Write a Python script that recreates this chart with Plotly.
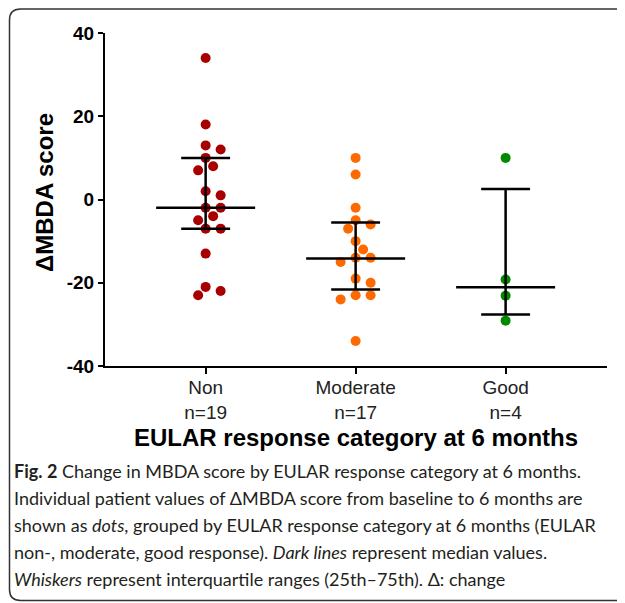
import plotly.graph_objects as go

# ---------------- data ----------------
categories = ["Non", "Moderate", "Good"]
tick_labels = ["Non<br>n=19", "Moderate<br>n=17", "Good<br>n=4"]
non_values = [34, 18, 13, 12, 10, 8, 7, 2, 1, -2, -2, -4, -5, -7, -7, -13, -21, -22, -23]
moderate_values = [10, 6, -2, -5, -6, -7, -10, -12, -14, -14, -15, -19, -20, -23, -23, -24, -34]
good_values = [10, -19.2, -23.1, -29.1]
medians = [-2, -14.2, -21.1]
q1_values = [-7, -21.6, -27.6]
q3_values = [10, -5.5, 2.5]
y_ticks = [-40, -20, 0, 20, 40]
y_tick_text = ["-40", "-20", "0", "20", "40"]

colors = ["#A80000", "#FF6A00", "#008A00"]

# ---------------- layout geometry (screen pixels; page body has an 8px margin) ----------------
OFF = 8
SCR_W, SCR_H = 625, 603
W, H = SCR_W - OFF, SCR_H - OFF
PL, PR, PT, PB = 105, 607, 33, 366          # plot area in screen pixels
PW, PH = PR - PL, PB - PT
XMIN, XMAX = -0.671, 2.676
YMIN, YMAX = -40, 40
px_per_x = PW / (XMAX - XMIN)
px_per_y = PH / (YMAX - YMIN)


def px(xs):
    return (xs - PL) / PW


def py(ys):
    return (PB - ys) / PH


def beeswarm(values, step_px=7.5, min_dist=11.0):
    placed = []
    order = sorted(range(len(values)), key=lambda i: -values[i])
    offs = [0.0] * len(values)
    cands = [0]
    for j in range(1, 12):
        cands += [j, -j]
    for i in order:
        yv = values[i] * px_per_y
        for c in cands:
            xo = c * step_px
            if all(((xx - xo) ** 2 + (yy - yv) ** 2) ** 0.5 >= min_dist for (xx, yy) in placed):
                offs[i] = xo / px_per_x
                placed.append((xo, yv))
                break
    return offs


fig = go.Figure()
groups = [non_values, moderate_values, good_values]
for gi, vals in enumerate(groups):
    offs = beeswarm(vals)
    fig.add_trace(go.Scatter(
        x=[gi + o for o in offs], y=vals, mode="markers",
        marker=dict(size=10, color=colors[gi], line=dict(width=0)),
        showlegend=False, hoverinfo="y"))

# median lines and IQR whiskers
med_half = 0.33
cap_half = 0.163
lx, ly = [], []
for gi in range(len(categories)):
    lx += [gi - med_half, gi + med_half, None]
    ly += [medians[gi], medians[gi], None]
    lx += [gi - cap_half, gi + cap_half, None, gi - cap_half, gi + cap_half, None, gi, gi, None]
    ly += [q1_values[gi], q1_values[gi], None, q3_values[gi], q3_values[gi], None,
           q1_values[gi], q3_values[gi], None]
fig.add_trace(go.Scatter(x=lx, y=ly, mode="lines", line=dict(color="black", width=2.5),
                         showlegend=False, hoverinfo="skip"))

axis_font = "Liberation Sans, Arial, sans-serif"
fig.update_layout(
    width=W, height=H,
    margin=dict(l=PL - OFF, r=W - (PR - OFF), t=PT - OFF, b=H - (PB - OFF), pad=0),
    paper_bgcolor="white", plot_bgcolor="white",
    xaxis=dict(range=[XMIN, XMAX], tickvals=[0, 1, 2], ticktext=tick_labels,
               showgrid=False, zeroline=False, showline=True, linecolor="black",
               linewidth=2, ticks="outside", ticklen=6, tickwidth=2, tickcolor="black",
               ticklabelstandoff=-3,
               tickfont=dict(family=axis_font, size=19, color="#222222")),
    yaxis=dict(range=[YMIN, YMAX], tickvals=y_ticks,
               ticktext=["<b>%s</b>" % t for t in y_tick_text],
               showgrid=False, zeroline=False, showline=True, linecolor="black",
               linewidth=2, ticks="outside", ticklen=5, tickwidth=2, tickcolor="black",
               tickfont=dict(family=axis_font, size=19, color="black")),
    font=dict(family=axis_font),
)

annotations = [
    dict(text="<b>EULAR response category at 6 months</b>", x=px(356), y=py(437),
         xref="paper", yref="paper", showarrow=False, xanchor="center", yanchor="middle",
         font=dict(family=axis_font, size=24, color="black")),
    dict(text="<b>ΔMBDA score</b>", x=px(44), y=py(193), textangle=-90,
         xref="paper", yref="paper", showarrow=False, xanchor="center", yanchor="middle",
         font=dict(family=axis_font, size=24, color="black")),
]

caption_lines = [
    "<b>Fig. 2</b> Change in MBDA score by EULAR response category at 6 months.",
    "Individual patient values of ΔMBDA score from baseline to 6 months are",
    "shown as <i>dots</i>, grouped by EULAR response category at 6 months (EULAR",
    "non-, moderate, good response). <i>Dark lines</i> represent median values.",
    "<i>Whiskers</i> represent interquartile ranges (25th–75th). Δ: change",
]
caption_y = [471, 498, 525, 552, 579]
for line, yy in zip(caption_lines, caption_y):
    annotations.append(dict(text=line, x=px(12), y=py(yy), xref="paper", yref="paper",
                            showarrow=False, xanchor="left", yanchor="middle",
                            font=dict(family="Lato, sans-serif", size=18, color="#231f20")))
fig.update_layout(annotations=annotations)

# rounded frame (screen pixel positions)
fl, ft, fb, fr, rad = 9.5, 9, 600.5, 660, 11
path = (f"M {px(fr)},{py(ft)} L {px(fl + rad)},{py(ft)} "
        f"Q {px(fl)},{py(ft)} {px(fl)},{py(ft + rad)} "
        f"L {px(fl)},{py(fb - rad)} Q {px(fl)},{py(fb)} {px(fl + rad)},{py(fb)} "
        f"L {px(fr)},{py(fb)}")
fig.add_shape(type="path", path=path, xref="paper", yref="paper",
              line=dict(color="#333333", width=1.5), layer="above")

fig.write_html("out.html")
